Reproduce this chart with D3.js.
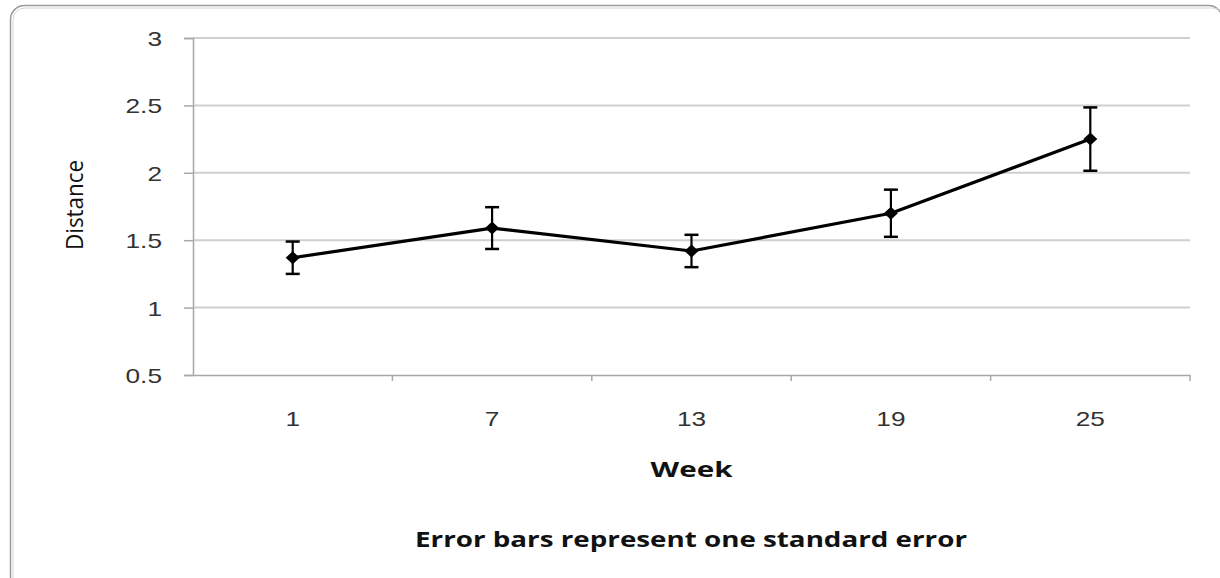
<!DOCTYPE html>
<html>
<head>
<meta charset="utf-8">
<script src="https://cdn.jsdelivr.net/npm/d3@7"></script>
<style>
  html, body { margin: 0; padding: 0; background: #fff; }
  svg { display: block; font-family: "Open Sans", "Noto Sans", sans-serif; }
</style>
</head>
<body>
<div id="chart"></div>
<script>
// values
const weeks = ["1", "7", "13", "19", "25"];
const meanDistance = [1.37, 1.59, 1.42, 1.70, 2.25];
const stdError = [0.12, 0.155, 0.12, 0.175, 0.235];
const yTicks = [0.5, 1, 1.5, 2, 2.5, 3];

const width = 1220;
const height = 578;
const margin = { top: 38, right: 30, bottom: 203, left: 193 };

const svg = d3
  .select("#chart")
  .append("svg")
  .attr("width", width)
  .attr("height", height)
  .attr("viewBox", [0, 0, width, height]);

// outer frame
svg
  .append("rect")
  .attr("x", 10.5)
  .attr("y", 5.5)
  .attr("width", 1212)
  .attr("height", 585)
  .attr("rx", 14)
  .attr("fill", "none")
  .attr("stroke", "#9a9a9a")
  .attr("stroke-width", 1.5);
svg
  .append("rect")
  .attr("x", 13)
  .attr("y", 8)
  .attr("width", 1212)
  .attr("height", 585)
  .attr("rx", 12)
  .attr("fill", "none")
  .attr("stroke", "#d6d6d6")
  .attr("stroke-width", 1);

const x = d3
  .scaleBand()
  .domain(weeks)
  .range([margin.left, width - margin.right]);

const y = d3
  .scaleLinear()
  .domain([0.5, 3])
  .range([height - margin.bottom, margin.top]);

// gridlines
svg
  .append("g")
  .selectAll("line")
  .data(yTicks.slice(1))
  .join("line")
  .attr("x1", margin.left)
  .attr("x2", width - margin.right)
  .attr("y1", (d) => y(d))
  .attr("y2", (d) => y(d))
  .attr("stroke", "#cfcfcf")
  .attr("stroke-width", 2);

// y axis
const yAxis = svg
  .append("g")
  .attr("transform", `translate(${margin.left},0)`)
  .call(d3.axisLeft(y).tickValues(yTicks).tickSize(9).tickPadding(0).tickFormat((d) => String(d)));
yAxis.select(".domain").attr("stroke", "#a8a8a8").attr("stroke-width", 1.5);
yAxis.selectAll(".tick line").attr("stroke", "#a8a8a8").attr("stroke-width", 1.5);
yAxis
  .selectAll(".tick text")
  .attr("x", null)
  .attr("dy", null)
  .attr("text-anchor", "end")
  .attr("dominant-baseline", "central")
  .attr("transform", "translate(-31,0) scale(1.25,1)")
  .attr("fill", "#333")
  .style("font-size", "21px");

// x axis
const xAxis = svg
  .append("g")
  .attr("transform", `translate(0,${y(0.5)})`)
  .call(d3.axisBottom(x).tickSize(0).tickPadding(0));
xAxis.select(".domain").attr("stroke", "#a8a8a8").attr("stroke-width", 1.5);
xAxis
  .selectAll(".tick text")
  .attr("y", null)
  .attr("dy", null)
  .attr("dominant-baseline", "central")
  .attr("transform", "translate(0,43) scale(1.25,1)")
  .attr("fill", "#333")
  .style("font-size", "21px");

// x tick marks at the category boundaries
xAxis
  .append("g")
  .selectAll("line")
  .data(weeks.slice(1).concat([null]))
  .join("line")
  .attr("x1", (d) => (d === null ? x.range()[1] : x(d)))
  .attr("x2", (d) => (d === null ? x.range()[1] : x(d)))
  .attr("y1", 0)
  .attr("y2", 6)
  .attr("stroke", "#a8a8a8")
  .attr("stroke-width", 1.5);

const cx = (i) => x(weeks[i]) + x.bandwidth() / 2;

// error bars
const bars = svg.append("g").attr("stroke", "#000").attr("stroke-width", 2.2);
meanDistance.forEach((m, i) => {
  const lo = y(m - stdError[i]);
  const hi = y(m + stdError[i]);
  bars.append("line").attr("x1", cx(i)).attr("x2", cx(i)).attr("y1", lo).attr("y2", hi);
  [lo, hi].forEach((v) => {
    bars
      .append("line")
      .attr("x1", cx(i) - 7)
      .attr("x2", cx(i) + 7)
      .attr("y1", v)
      .attr("y2", v)
      .attr("stroke-width", 2.5);
  });
});

// line
const line = d3
  .line()
  .x((d, i) => cx(i))
  .y((d) => y(d));

svg
  .append("path")
  .datum(meanDistance)
  .attr("fill", "none")
  .attr("stroke", "#000")
  .attr("stroke-width", 3.2)
  .attr("stroke-linejoin", "round")
  .attr("d", line);

// diamond markers
svg
  .append("g")
  .selectAll("path")
  .data(meanDistance)
  .join("path")
  .attr("transform", (d, i) => `translate(${cx(i)},${y(d)})`)
  .attr("d", "M0,-6.5L7,0L0,6.5L-7,0Z")
  .attr("fill", "#000");

// axis titles
svg
  .append("text")
  .attr("transform", "translate(83,205) scale(1.15,1) rotate(-90)")
  .attr("text-anchor", "middle")
  .attr("textLength", 90)
  .attr("lengthAdjust", "spacingAndGlyphs")
  .attr("fill", "#111")
  .style("font-size", "21px")
  .text("Distance");

svg
  .append("text")
  .attr("x", (x.range()[0] + x.range()[1]) / 2)
  .attr("y", 477)
  .attr("text-anchor", "middle")
  .attr("textLength", 82)
  .attr("lengthAdjust", "spacingAndGlyphs")
  .attr("fill", "#111")
  .style("font-size", "21px")
  .style("font-weight", "700")
  .text("Week");

svg
  .append("text")
  .attr("x", 691)
  .attr("y", 547)
  .attr("text-anchor", "middle")
  .attr("textLength", 552)
  .attr("lengthAdjust", "spacingAndGlyphs")
  .attr("fill", "#111")
  .style("font-size", "21px")
  .style("font-weight", "700")
  .text("Error bars represent one standard error");
</script>
</body>
</html>
